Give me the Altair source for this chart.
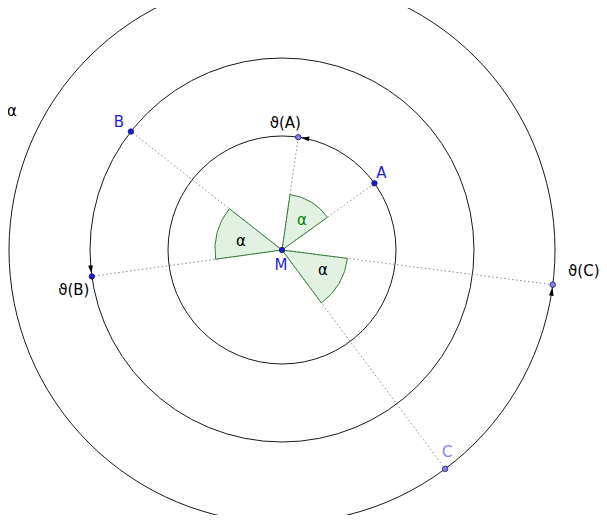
import altair as alt
import numpy as np
import pandas as pd

# ---- data (units: pixels, origin at M, y upward) ----
circle_radii = [114, 192, 273]
alpha_deg = 46.0
base_names = ["A", "B", "C"]
base_angles = [35.8, 141.9, -53.3]      # degrees, counter-clockwise from +x
base_ring = [0, 1, 2]
image_names = ["ϑ(A)", "ϑ(B)", "ϑ(C)"]
sector_radii = [56, 67, 66]
sector_label_colors = ["#007f00", "#000000", "#000000"]
sector_label_offsets = [(20, 30), (-41, 9), (41, -20)]

point_names = ["A", "ϑ(A)", "B", "ϑ(B)", "C", "ϑ(C)"]
point_angles = [35.8, 81.8, 141.9, 187.9, -53.3, -7.3]
point_ring = [0, 0, 1, 1, 2, 2]
point_fill = ["#1e1ed8", "#7f7fff", "#1e1ed8", "#1e1ed8", "#7f7fff", "#7f7fff"]
label_color = ["#1e1ed8", "#000000", "#1e1ed8", "#000000", "#7f7fff", "#000000"]
label_offsets = [(7, 10), (-13, 14), (-12, 10), (-18, -14), (2, 17), (31, 14)]

W, H = 591, 507
XDOM = [-274, 317]
YDOM = [-265, 242]

# ---- tables ----
pts = pd.DataFrame({
    "name": point_names,
    "ang": point_angles,
    "r": [circle_radii[i] for i in point_ring],
    "fill": point_fill,
    "lcol": label_color,
})
pts["x"] = pts["r"] * np.cos(np.radians(pts["ang"]))
pts["y"] = pts["r"] * np.sin(np.radians(pts["ang"]))
pts["lx"] = pts["x"] + [o[0] for o in label_offsets]
pts["ly"] = pts["y"] + [o[1] for o in label_offsets]

M = pd.DataFrame({"x": [0.0], "y": [0.0], "name": ["M"], "fill": ["#1e1ed8"],
                  "lx": [-1.0], "ly": [-15.0], "lcol": ["#1e1ed8"]})

circ = pd.DataFrame({"x": 0.0, "y": 0.0, "r": circle_radii,
                     "t0": 0.0, "t1": 2 * np.pi})

sec = pd.DataFrame({"x": 0.0, "y": 0.0, "r": sector_radii,
                    "a1": base_angles})
sec["a2"] = sec["a1"] + alpha_deg
sec["t0"] = np.radians((90 - sec["a2"]) % 360)
sec["t1"] = sec["t0"] + np.radians(alpha_deg)

sec_lab = pd.DataFrame({"x": [o[0] for o in sector_label_offsets],
                        "y": [o[1] for o in sector_label_offsets],
                        "text": ["α"] * 3, "col": sector_label_colors})

# arrowheads on circles, just behind the image points (counter-clockwise direction)
img_ang = [a + alpha_deg for a in base_angles]
arr = pd.DataFrame({"ang": img_ang, "r": [circle_radii[i] for i in base_ring]})
arr["back"] = np.degrees(7.0 / arr["r"])
arr["x"] = arr["r"] * np.cos(np.radians(arr["ang"] - arr["back"]))
arr["y"] = arr["r"] * np.sin(np.radians(arr["ang"] - arr["back"]))
arr["rot"] = (-arr["ang"]) % 360

seg = pts.copy()
seg["x0"] = 0.0
seg["y0"] = 0.0

top_alpha = pd.DataFrame({"x": [-275.0], "y": [139.0], "text": ["α"]})

# ---- encodings ----
X = lambda f="x": alt.X(f"{f}:Q", scale=alt.Scale(domain=XDOM, nice=False, zero=False), axis=None)
Y = lambda f="y": alt.Y(f"{f}:Q", scale=alt.Scale(domain=YDOM, nice=False, zero=False), axis=None)
R = alt.Radius("r:Q", scale=alt.Scale(type="linear", domain=[0, 300], range=[0, 300]))

circles = alt.Chart(circ).mark_arc(filled=False, stroke="#1a1a1a", strokeWidth=1).encode(
    x=X(), y=Y(), radius=R,
    theta=alt.Theta("t0:Q", scale=None), theta2=alt.Theta2("t1:Q"))

rules = alt.Chart(seg).mark_rule(color="#8a8a8a", strokeWidth=1, strokeDash=[1.5, 2.5]).encode(
    x=X("x0"), y=Y("y0"), x2="x:Q", y2="y:Q")

sectors = alt.Chart(sec).mark_arc(fill="#007f00", fillOpacity=0.11, stroke="#3b7d3b",
                                  strokeWidth=1).encode(
    x=X(), y=Y(), radius=R,
    theta=alt.Theta("t0:Q", scale=None), theta2=alt.Theta2("t1:Q"))

sector_text = alt.Chart(sec_lab).mark_text(font="DejaVu Sans", fontSize=15).encode(
    x=X(), y=Y(), text="text:N", color=alt.Color("col:N", scale=None))

arrows = alt.Chart(arr).mark_point(shape="M0,-1L0.6,1L-0.6,1Z", filled=True, size=64,
                                   color="#000000", opacity=1).encode(
    x=X(), y=Y(), angle=alt.Angle("rot:Q", scale=None))

allpts = pd.concat([pts, M], ignore_index=True)
dots = alt.Chart(allpts).mark_point(shape="circle", filled=True, size=30, stroke="#1a1a4a",
                                    strokeWidth=0.8, opacity=1).encode(
    x=X(), y=Y(), fill=alt.Fill("fill:N", scale=None))

labels = alt.Chart(allpts).mark_text(font="DejaVu Sans", fontSize=15).encode(
    x=X("lx"), y=Y("ly"), text="name:N", color=alt.Color("lcol:N", scale=None))

corner = alt.Chart(top_alpha).mark_text(font="DejaVu Sans", fontSize=15, align="left",
                                        color="#000000").encode(
    x=X(), y=Y(), text="text:N")

chart = alt.layer(circles, rules, sectors, sector_text, arrows, dots, labels, corner).properties(
    width=W, height=H, padding=0, autosize=alt.AutoSizeParams(type="none"),
    background="white"
).configure_view(stroke=None)

chart.save("out.html", embed_options={"renderer": "svg", "actions": False})
